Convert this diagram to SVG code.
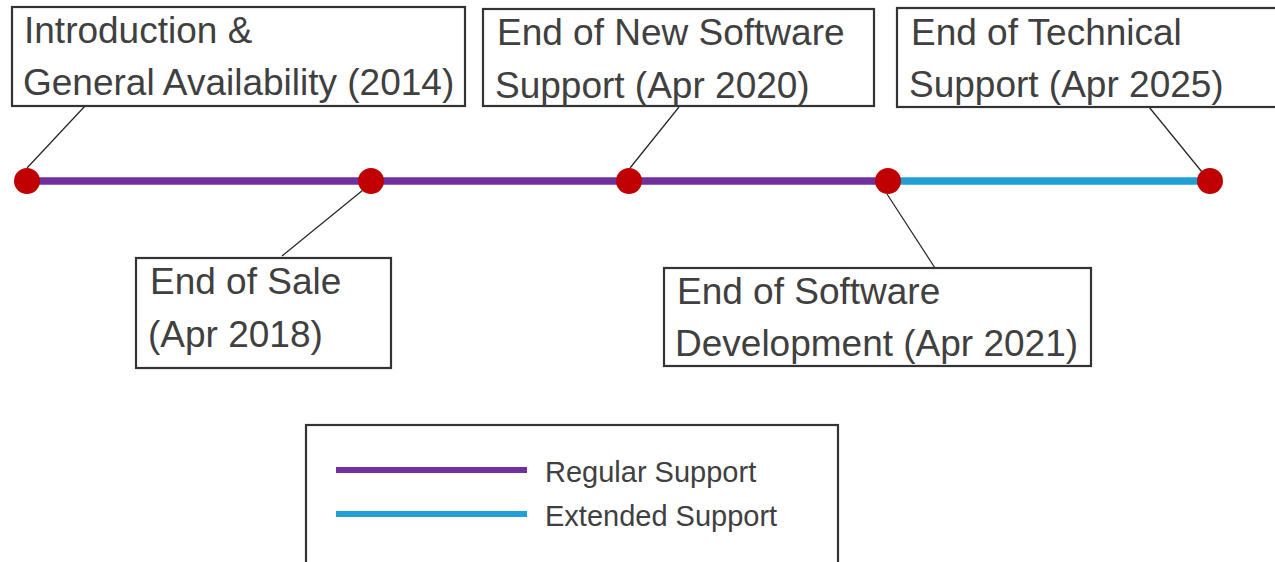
<svg xmlns="http://www.w3.org/2000/svg" width="1275" height="562" viewBox="0 0 1275 562">
<style>
.box{fill:#fff;stroke:#333;stroke-width:2.2}
.t{font-family:"Liberation Sans",Arial,sans-serif;font-size:37px;fill:#404040}
.lt{font-family:"Liberation Sans",Arial,sans-serif;font-size:29px;fill:#404040}
.lead{stroke:#222;stroke-width:1.2;fill:none}
.dot{fill:#C00000}
</style>
<rect width="1275" height="562" fill="#fff"/>
<g id="timeline">
<line x1="27" y1="181" x2="888" y2="181" stroke="#7030A0" stroke-width="7.5"/>
<line x1="888" y1="181" x2="1210" y2="181" stroke="#21A0D8" stroke-width="7.5"/>
</g>
<g id="connectors">
<line class="lead" x1="27" y1="168" x2="85" y2="106"/>
<line class="lead" x1="363" y1="190" x2="282" y2="256"/>
<line class="lead" x1="630" y1="168" x2="679" y2="107"/>
<line class="lead" x1="887" y1="194" x2="935" y2="268"/>
<line class="lead" x1="1149" y1="107" x2="1202" y2="172"/>
</g>
<g id="dots">
<circle class="dot" cx="27" cy="181" r="13"/>
<circle class="dot" cx="371" cy="181" r="13"/>
<circle class="dot" cx="629" cy="181" r="13"/>
<circle class="dot" cx="888" cy="181" r="13"/>
<circle class="dot" cx="1210" cy="181" r="13"/>
</g>
<g id="n1">
<rect class="box" x="12" y="7" width="453" height="99"/>
<text class="t" x="24" y="43">Introduction &amp;</text>
<text class="t" x="23" y="95">General Availability (2014)</text>
</g>
<g id="n2">
<rect class="box" x="483" y="9" width="391" height="97"/>
<text class="t" x="497" y="45">End of New Software</text>
<text class="t" x="495" y="98">Support (Apr 2020)</text>
</g>
<g id="n3">
<rect class="box" x="897" y="8" width="390" height="99"/>
<text class="t" x="911" y="45">End of Technical</text>
<text class="t" x="909" y="97">Support (Apr 2025)</text>
</g>
<g id="n4">
<rect class="box" x="136" y="258" width="255" height="110"/>
<text class="t" x="150" y="294">End of Sale</text>
<text class="t" x="148" y="347">(Apr 2018)</text>
</g>
<g id="n5">
<rect class="box" x="664" y="268" width="427" height="98"/>
<text class="t" x="677" y="304">End of Software</text>
<text class="t" x="675" y="356">Development (Apr 2021)</text>
</g>
<g id="legend">
<rect class="box" x="306" y="425" width="532" height="160"/>
<line x1="336" y1="470" x2="527" y2="470" stroke="#7030A0" stroke-width="6"/>
<line x1="336" y1="514" x2="527" y2="514" stroke="#21A0D8" stroke-width="6"/>
<text class="lt" x="545" y="482">Regular Support</text>
<text class="lt" x="545" y="526">Extended Support</text>
</g>
</svg>
